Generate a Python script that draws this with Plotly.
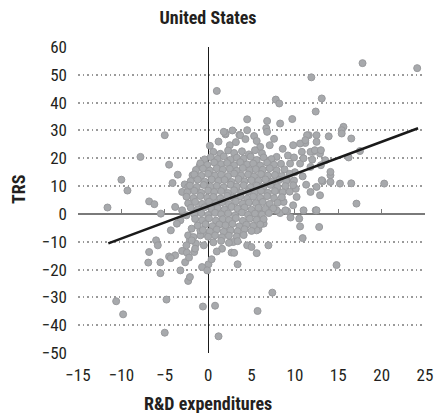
import plotly.graph_objects as go

# ---- data ----
edge_rd = [
    1.0, 17.8, 24.1, 11.9, 13.1, 7.8, 8.2, 12.4,
    9.7, 4.5, 6.8, 8.3, -5.0, 4.5, 2.8, 2.0,
    3.6, 5.3, 6.7, 15.6, 15.4, 13.9, 11.6, 16.5,
    -11.6, -10.0, -9.3, -7.8, -6.8, -6.2, -5.45, -4.5,
    -3.5, -4.1, -2.7, -4.3, -6.0, -5.8, -6.8, 16.5,
    20.3, 17.1, 16.2, 17.5, 15.2, 14.1, 13.2, 12.8,
    10.9, 9.5, 6.95, 5.6, -6.9, -5.5, -5.5, -3.2,
    -2.3, -2.1, -2.65, -0.7, 0.04, -0.1, 3.4, 14.8,
    -10.6, -9.8, -4.8, -5.0, -0.6, 0.8, 1.2, 5.7,
    7.4, -4.5, -3.8, -4.3, -3.0, -2.45, -1.6, -2.2,
    0.4, -0.5, -2.1, -2.3, -1.9, -0.9, -1.4, 1.6,
    2.7, 4.5, 5.0, 5.8, 2.9, 10.6, 10.5, 12.4,
    -1.0, -1.8, 2.0, 2.5, 1.8, 3.7, 6.8, 11.4,
    12.5, 15.4, 9.8, 11.2, 12.5, 10.8, 12.1, 12.9,
    7.1, 6.0, 7.9, 9.45, 10.6, 11.8, 13.5, 14.1,
    14.1, 13.1, 12.5, 11.8, 12.9, 10.2, 9.8, 11.0,
    12.5, 8.7, 7.9, 9.1, 7.1, 6.0, 8.3, 9.1,
    11.8, 12.3, 13.0, 10.6, 11.2, -3.8, -3.0, -2.5,
    -3.2, -3.6, -3.0, -2.3, -0.9, -1.7, -0.5, -1.5,
    -2.5, -1.9, 5.6, 6.4, 7.9, 8.9, 3.0, 1.0,
    0.2, 1.2, 3.2, 4.3, 5.6, 7.6, 8.6, 9.2,
    10.0, 10.9, 11.3, 10.1, 9.9, 11.0, 12.0, 13.0,
]
edge_trs = [
    44.2, 54.2, 52.4, 49.1, 41.5, 41.1, 39.7, 36.8,
    34.1, 34.0, 33.4, 32.5, 28.3, 30.1, 30.0, 28.6,
    28.4, 28.0, 30.8, 31.3, 30.1, 27.9, 28.3, 27.1,
    2.3, 12.3, 8.4, 20.5, 4.5, 3.5, 0.1, 17.7,
    14.1, 11.1, 10.6, -5.9, -9.5, -11.3, -13.7, 11.0,
    10.9, 3.7, 20.3, 22.6, 10.9, 13.9, 11.7, -4.7,
    -8.7, -1.3, -11.3, -14.1, -17.5, -17.4, -21.3, -20.3,
    -24.1, -22.7, -17.4, -19.1, -18.1, -20.3, -18.1, -18.4,
    -31.4, -36.1, -30.8, -42.7, -33.3, -33.0, -44.0, -34.9,
    -28.3, -15.3, -14.9, -15.9, -13.3, -13.9, -13.7, -15.7,
    -16.3, -7.1, -9.5, -7.7, -5.3, -7.7, -10.7, -12.5,
    -13.9, -11.3, -11.9, -5.5, -10.1, -4.5, -1.7, 1.3,
    17.1, 13.9, 28.9, 24.7, 29.5, 28.3, 29.5, 28.3,
    28.3, 28.9, 24.7, 25.5, 25.9, 22.3, 22.3, 21.7,
    24.7, 24.1, 20.5, 18.1, 18.1, 16.9, 19.3, 15.1,
    11.5, 12.1, 9.7, 7.9, 6.7, 6.1, 3.1, 1.3,
    1.3, 4.3, 8.5, 12.1, 2.5, 0.1, 0.3, 1.0,
    22.3, 22.9, 22.9, 25.3, 26.5, 2.5, 1.3, -0.5,
    -2.3, -3.5, 7.9, 9.7, -5.9, -8.3, -11.3, -12.5,
    -11.3, -9.5, -5.9, -3.5, 1.3, 1.3, -14.0, -13.5,
    24.5, 26.0, 25.8, 26.9, 26.2, 27.0, 23.4, 21.0,
    15.0, 13.5, 10.5, 9.0, 20.3, 20.0, 19.5, 17.5,
]

# dense central cloud, row by row
cloud_rd = [
    [0.6, 1.4, 2.3, 3.0, 3.9, 4.7, 5.4, 6.2],
    [-0.4, 0.3, 1.1, 1.8, 2.6, 3.3, 4.1, 4.9, 5.6, 6.4, 7.3],
    [-0.9, -0.1, 0.7, 1.5, 2.2, 3.0, 3.7, 4.5, 5.2, 6.0, 6.8, 7.6, 8.4],
    [-1.4, -0.6, 0.2, 1.0, 1.7, 2.5, 3.3, 4.0, 4.8, 5.5, 6.3, 7.1, 7.9, 8.8],
    [-1.6, -0.8, 0.0, 0.8, 1.5, 2.3, 3.0, 3.8, 4.6, 5.3, 6.1, 6.9, 7.7, 8.5, 9.4],
    [-2.0, -1.2, -0.4, 0.4, 1.2, 1.9, 2.7, 3.5, 4.2, 5.0, 5.8, 6.6, 7.4, 8.2, 9.0, 9.9],
    [-2.1, -1.3, -0.5, 0.3, 1.0, 1.8, 2.6, 3.3, 4.1, 4.9, 5.6, 6.4, 7.2, 8.0, 8.9, 9.8],
    [-2.4, -1.6, -0.8, 0.0, 0.7, 1.5, 2.3, 3.0, 3.8, 4.6, 5.4, 6.1, 6.9, 7.7, 8.6, 9.4],
    [-2.5, -1.7, -0.9, -0.1, 0.6, 1.4, 2.2, 2.9, 3.7, 4.5, 5.2, 6.0, 6.8, 7.6, 8.5],
    [-2.3, -1.5, -0.7, 0.1, 0.9, 1.6, 2.4, 3.2, 4.0, 4.7, 5.5, 6.3, 7.1, 8.0],
    [-2.0, -1.2, -0.4, 0.4, 1.1, 1.9, 2.7, 3.4, 4.2, 5.0, 5.8, 6.6, 7.5],
    [-1.6, -0.8, 0.0, 0.8, 1.5, 2.3, 3.1, 3.9, 4.6, 5.4, 6.2, 7.0],
    [-1.5, -0.7, 0.1, 0.9, 1.7, 2.4, 3.2, 4.0, 4.8, 5.6, 6.4],
    [-1.2, -0.3, 0.5, 1.3, 2.0, 2.8, 3.6, 4.4, 5.2, 6.0],
    [-0.6, 0.2, 1.0, 1.8, 2.6, 3.4, 4.2, 5.0],
    [0.0, 0.8, 1.6, 2.4, 3.3, 4.1],
    [0.6, 1.5, 2.4, 3.4],
]
cloud_trs = [
    [22.3, 21.6, 22.8, 21.9, 22.5, 21.4, 22.9, 21.8],
    [19.6, 20.4, 19.8, 20.7, 19.5, 20.2, 19.9, 20.6, 19.4, 20.3, 19.7],
    [18.2, 17.6, 18.5, 17.9, 18.3, 17.5, 18.6, 17.8, 18.1, 17.4, 18.4, 17.7, 18.0],
    [15.8, 16.3, 15.6, 16.4, 15.9, 16.2, 15.5, 16.5, 15.7, 16.1, 15.9, 16.4, 15.6, 16.0],
    [14.2, 13.7, 14.4, 13.8, 14.1, 13.6, 14.5, 13.9, 14.2, 13.5, 14.3, 13.8, 14.0, 13.6, 14.4],
    [11.8, 12.3, 11.6, 12.4, 11.9, 12.2, 11.5, 12.5, 11.7, 12.1, 11.9, 12.4, 11.6, 12.2, 11.8, 12.0],
    [10.2, 9.7, 10.4, 9.8, 10.1, 9.6, 10.5, 9.9, 10.3, 9.5, 10.2, 9.8, 10.4, 9.7, 10.0, 10.3],
    [7.8, 8.3, 7.6, 8.4, 7.9, 8.2, 7.5, 8.5, 7.7, 8.1, 7.9, 8.3, 7.6, 8.2, 7.8, 8.0],
    [6.2, 5.7, 6.4, 5.8, 6.1, 5.6, 6.5, 5.9, 6.3, 5.5, 6.2, 5.8, 6.4, 5.7, 6.0],
    [3.8, 4.3, 3.6, 4.4, 3.9, 4.2, 3.5, 4.5, 3.7, 4.1, 3.9, 4.3, 3.6, 4.0],
    [2.2, 1.7, 2.4, 1.8, 2.1, 1.6, 2.5, 1.9, 2.3, 1.5, 2.2, 1.8, 2.0],
    [-0.2, 0.3, -0.4, 0.4, -0.1, 0.2, -0.5, 0.5, -0.3, 0.1, -0.2, 0.3],
    [-1.8, -2.3, -1.6, -2.4, -1.9, -2.2, -1.5, -2.5, -1.7, -2.1, -1.9],
    [-4.2, -3.7, -4.4, -3.8, -4.1, -3.6, -4.5, -3.9, -4.3, -3.8],
    [-5.8, -6.3, -5.6, -6.4, -5.9, -6.2, -5.5, -6.1],
    [-8.2, -7.7, -8.4, -7.8, -8.1, -7.6],
    [-10.2, -9.7, -10.4, -9.8],
]

# fitted trend line end points
trend_rd = [-11.5, 24.2]
trend_trs = [-10.6, 30.8]

x_ticks = [-15, -10, -5, 0, 5, 10, 15, 20, 25]
y_ticks = [-50, -40, -30, -20, -10, 0, 10, 20, 30, 40, 50, 60]

all_rd = edge_rd + [v for row in cloud_rd for v in row]
all_trs = edge_trs + [v for row in cloud_trs for v in row]

FONT = "Liberation Sans Narrow, Arial Narrow, Roboto Condensed, sans-serif"
TXT = "#231f20"
W, H = 435, 413
L, R, T, B = 78, 10, 47, 60
PW, PH = W - L - R, H - T - B

fig = go.Figure()
fig.add_trace(go.Scatter(
    x=all_rd, y=all_trs, mode="markers",
    marker=dict(size=7, color="#a7a9ac", line=dict(color="#999a9d", width=1)),
    hoverinfo="skip", showlegend=False,
))
fig.add_trace(go.Scatter(
    x=trend_rd, y=trend_trs, mode="lines",
    line=dict(color="#1a1a1a", width=2.5),
    hoverinfo="skip", showlegend=False,
))
# helper trace for the axis drawn through y = 0
fig.add_trace(go.Scatter(x=[None], y=[None], xaxis="x2", showlegend=False, hoverinfo="skip"))

fig.update_layout(
    width=W, height=H,
    margin=dict(l=L, r=R, t=T, b=B, autoexpand=False),
    paper_bgcolor="white", plot_bgcolor="white",
    font=dict(family=FONT, size=17, color=TXT),
    title=dict(text="<b>United States</b>", font=dict(family=FONT, size=18, color=TXT),
               xref="container", x=208 / W, xanchor="center",
               yref="container", y=1 - 18 / H, yanchor="middle"),
    xaxis=dict(range=[-15, 25], tickvals=x_ticks, showgrid=False, automargin=False,
               zeroline=True, zerolinecolor="#1a1a1a", zerolinewidth=1.3,
               showline=False, ticks="", ticklabelstandoff=10,
               tickfont=dict(size=17, color=TXT)),
    xaxis2=dict(range=[-15, 25], tickvals=x_ticks, overlaying="x", anchor="free",
                position=50 / 110, side="bottom", showline=True, linecolor="#7a7a7a",
                linewidth=1.5, ticks="inside", ticklen=4, tickwidth=1.2, tickcolor="#7a7a7a",
                showticklabels=False, showgrid=False, zeroline=False, layer="below traces",
                automargin=False),
    yaxis=dict(range=[-50, 60], tickvals=y_ticks, showgrid=True, gridcolor="#9a9a9a",
               gridwidth=1.5, griddash="1.5px,3px", zeroline=False, showline=False,
               automargin=False, ticks="", ticklabelstandoff=10,
               tickfont=dict(size=17, color=TXT)),
    annotations=[
        dict(text="<b>R&D expenditures</b>", xref="paper", yref="paper",
             x=(208 - L) / PW, y=-(403 - (H - B)) / PH, xanchor="center", yanchor="middle",
             showarrow=False, font=dict(family=FONT, size=18, color=TXT)),
        dict(text="<b>TRS</b>", xref="paper", yref="paper", textangle=-90,
             x=(18 - L) / PW, y=((H - B) - 189) / PH, xanchor="center", yanchor="middle",
             showarrow=False, font=dict(family=FONT, size=18, color=TXT)),
    ],
)

fig.write_html("out.html", config={"displayModeBar": False},
               post_script="document.body.style.margin='0';")
